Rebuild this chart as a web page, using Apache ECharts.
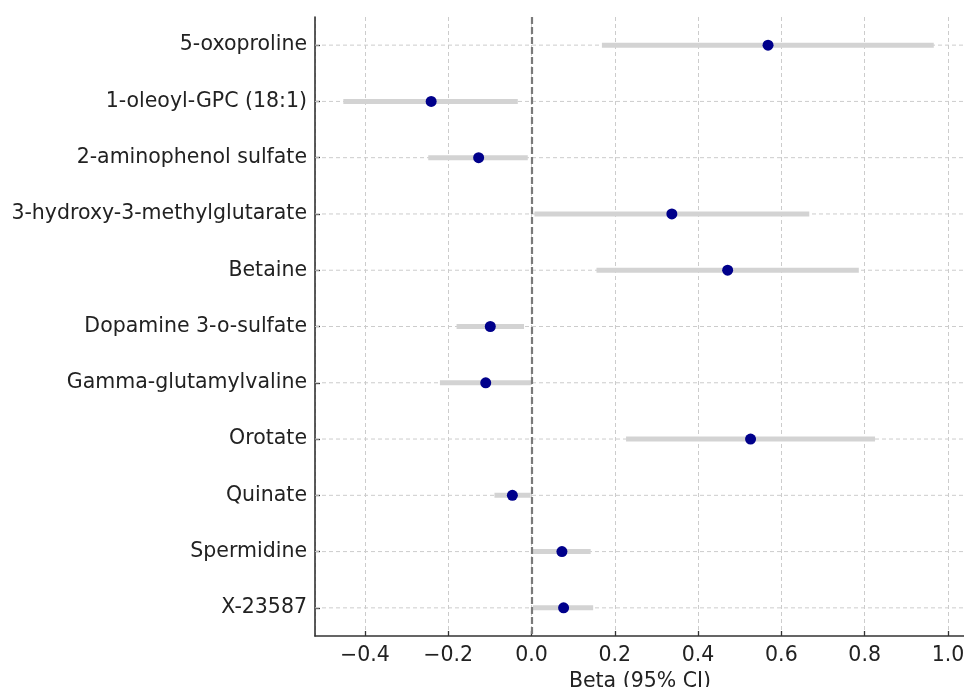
<!DOCTYPE html>
<html>
<head>
<meta charset="utf-8">
<script src="https://cdn.jsdelivr.net/npm/echarts@6/dist/echarts.min.js"></script>
<style>
  html, body { margin: 0; padding: 0; background: #fff; }
  #main { width: 964px; height: 687px; }
</style>
</head>
<body>
<div id="main"></div>
<script>
// metabolites, top to bottom
var metabolites = ['5-oxoproline', '1-oleoyl-GPC (18:1)', '2-aminophenol sulfate',
    '3-hydroxy-3-methylglutarate', 'Betaine', 'Dopamine 3-o-sulfate',
    'Gamma-glutamylvaline', 'Orotate', 'Quinate', 'Spermidine', 'X-23587'];
var beta    = [0.568, -0.241, -0.127, 0.337, 0.471, -0.099, -0.110, 0.526, -0.046, 0.073, 0.077];
var ciLow   = [0.169, -0.452, -0.248, 0.007, 0.156, -0.180, -0.220, 0.227, -0.089, 0.003, 0.003];
var ciHigh  = [0.966, -0.033, -0.009, 0.667, 0.786, -0.018, -0.001, 0.825, -0.002, 0.142, 0.148];

var textColor = '#222222';
var fontFamily = 'DejaVu Sans';
var fontSize = 20.5;
var gridLine = { color: '#cccccc', width: 1, type: [4, 3] };

function fmt(v) {
    var s = Math.abs(v).toFixed(1);
    return v < -1e-9 ? '\u2212' + s : s;
}

var ciData = metabolites.map(function (m, i) { return [ciLow[i], ciHigh[i], i]; });
var pointData = metabolites.map(function (m, i) { return [beta[i], i]; });
var rowData = metabolites.map(function (m, i) { return [0, i]; });

var myChart = echarts.init(document.getElementById('main'), null, { renderer: 'canvas' });

var option = {
    backgroundColor: '#ffffff',
    animation: false,
    grid: { left: 315, right: -1, top: 17, bottom: 51, containLabel: false, outerBoundsMode: 'none' },
    xAxis: {
        type: 'value',
        min: -0.52,
        max: 1.041,
        splitNumber: 8,
        name: 'Beta (95% CI)',
        nameLocation: 'middle',
        nameGap: 32,
        nameTextStyle: { color: textColor, fontSize: fontSize, fontFamily: fontFamily },
        axisLine: { show: true, onZero: false, lineStyle: { color: '#333333', width: 1.6 } },
        axisTick: { show: true, inside: true, length: 5, lineStyle: { color: '#333333', width: 1.3 } },
        axisLabel: {
            color: textColor, fontSize: fontSize, fontFamily: fontFamily, margin: 9,
            showMinLabel: false, showMaxLabel: false,
            formatter: fmt
        },
        splitLine: { show: true, lineStyle: gridLine }
    },
    yAxis: {
        type: 'category',
        data: metabolites,
        inverse: true,
        axisLine: { show: true, onZero: false, lineStyle: { color: '#333333', width: 1.6 } },
        axisTick: { show: true, inside: true, length: 5, alignWithLabel: true, lineStyle: { color: '#333333', width: 1.3 } },
        axisLabel: { color: textColor, fontSize: fontSize, fontFamily: fontFamily, margin: 8 },
        splitLine: { show: false }
    },
    series: [
        {
            // 行网格线（在类别中心）
            type: 'custom',
            name: 'rows',
            silent: true,
            z: 1,
            data: rowData,
            encode: { x: 0, y: 1 },
            renderItem: function (params, api) {
                var p = api.coord([0, api.value(1)]);
                var cs = params.coordSys;
                return {
                    type: 'line',
                    shape: { x1: cs.x, y1: p[1], x2: cs.x + cs.width, y2: p[1] },
                    style: { stroke: gridLine.color, lineWidth: 1, lineDash: [4, 3] }
                };
            }
        },
        {
            // 置信区间横条
            type: 'custom',
            name: 'CI',
            silent: true,
            z: 2,
            data: ciData,
            encode: { x: [0, 1], y: 2 },
            renderItem: function (params, api) {
                var p1 = api.coord([api.value(0), api.value(2)]);
                var p2 = api.coord([api.value(1), api.value(2)]);
                return {
                    type: 'line',
                    shape: { x1: p1[0], y1: p1[1], x2: p2[0], y2: p2[1] },
                    style: { stroke: '#d3d3d3', lineWidth: 5 }
                };
            }
        },
        {
            type: 'scatter',
            name: 'Beta',
            z: 4,
            symbol: 'circle',
            symbolSize: 11,
            itemStyle: { color: '#00008b', opacity: 1 },
            data: pointData,
            markLine: {
                silent: true,
                symbol: ['none', 'none'],
                label: { show: false },
                lineStyle: { color: '#7a7a7a', width: 2.2, type: [7, 3] },
                data: [{ xAxis: 0 }]
            }
        }
    ]
};

myChart.setOption(option);
</script>
</body>
</html>
